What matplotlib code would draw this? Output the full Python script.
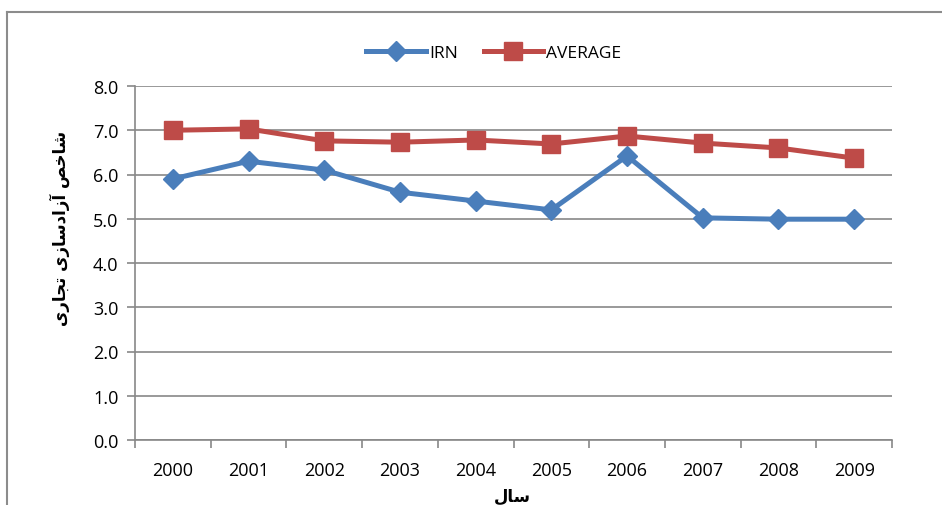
import matplotlib
matplotlib.use("Agg")
import matplotlib.pyplot as plt
from matplotlib.lines import Line2D

years = ["2000", "2001", "2002", "2003", "2004", "2005", "2006", "2007", "2008", "2009"]
irn = [5.90, 6.30, 6.10, 5.60, 5.40, 5.20, 6.42, 5.02, 4.99, 4.99]
average = [7.00, 7.03, 6.76, 6.73, 6.78, 6.69, 6.87, 6.71, 6.60, 6.37]
yticks = [0.0, 1.0, 2.0, 3.0, 4.0, 5.0, 6.0, 7.0, 8.0]

# Persian labels (pre-shaped presentation forms, visual order)
ylabel_txt = "\uFBFC\uFEAD\uFE8E\uFEA0\uFE97 \uFBFC\uFEAF\uFE8E\uFEB3\uFEA9\uFE8D\uFEAF\uFE81 \uFEBA\uFEA7\uFE8E\uFEB7"
xlabel_txt = "\uFEDD\uFE8E\uFEB3"

plt.rcParams['font.family'] = ['Open Sans', 'DejaVu Sans']

W, H = 942, 506
fig = plt.figure(figsize=(W / 100, H / 100), dpi=100)
ax = fig.add_axes([135 / W, (H - 441) / H, (892 - 135) / W, (441 - 87) / H])

blue = "#4A7EBB"
red = "#BE4B48"
grid = "#888888"

x = list(range(len(years)))
ax.plot(x, irn, color=blue, lw=3.6, marker='D', ms=10, mfc=blue, mec=blue, label="IRN", zorder=3)
ax.plot(x, average, color=red, lw=3.6, marker='s', ms=13, mfc=red, mec=red, label="AVERAGE", zorder=3)

ax.set_xlim(-0.5, len(years) - 0.5)
ax.set_ylim(0, 8)
ax.set_yticks(yticks)
ax.set_yticklabels([f"{v:.1f}" for v in yticks], fontsize=13, color="#000000")
ax.set_xticks(x)
ax.set_xticklabels(years, fontsize=13, color="#000000")
ax.set_xticks([i - 0.5 for i in range(len(years) + 1)], minor=True)
ax.tick_params(axis='x', which='major', length=0, pad=15)
ax.tick_params(axis='x', which='minor', length=6, color=grid, width=1.2, direction='out')
ax.tick_params(axis='y', length=6, color=grid, width=1.2, direction='out', pad=6)
ax.yaxis.grid(True, color=grid, lw=1.2)
ax.set_axisbelow(True)
for s in ['top', 'right']:
    ax.spines[s].set_visible(False)
for s in ['left', 'bottom']:
    ax.spines[s].set_color(grid)
    ax.spines[s].set_linewidth(1.2)

fig.text(60 / W, 1 - 228 / H, ylabel_txt, rotation=90, ha='center', va='center',
         fontsize=12, fontweight='bold', family=['DejaVu Sans'])
fig.text(512 / W, 1 - 497 / H, xlabel_txt, ha='center', va='center',
         fontsize=12, fontweight='bold', family=['DejaVu Sans'])

leg = fig.legend(loc='center', bbox_to_anchor=(494 / W, 1 - 54 / H), ncol=2, frameon=False,
                 fontsize=12.5, handlelength=3.4, columnspacing=1.5, handletextpad=0.2)

# outer frame lines (left and top)
fig.add_artist(Line2D([7 / W, 7 / W], [0, 1 - 13 / H], transform=fig.transFigure, color="#8c8c8c", lw=1.5))
fig.add_artist(Line2D([7 / W, 1], [1 - 13 / H, 1 - 13 / H], transform=fig.transFigure, color="#8c8c8c", lw=1.5))

fig.savefig("out.png", dpi=100)
